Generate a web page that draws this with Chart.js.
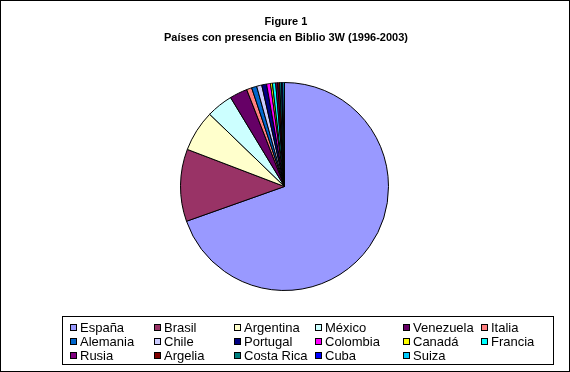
<!DOCTYPE html>
<html>
<head>
<meta charset="utf-8">
<script src="https://cdn.jsdelivr.net/npm/chart.js@4"></script>
<style>
  body { margin: 0; background: #fff; }
  canvas { display: block; }
</style>
</head>
<body>
<canvas id="grafico" width="570" height="372"></canvas>
<script>
const ctx = document.getElementById('grafico');

// datos (porcentaje aproximado)
const paises = ['España', 'Brasil', 'Argentina', 'México', 'Venezuela', 'Italia',
  'Alemania', 'Chile', 'Portugal', 'Colombia', 'Canadá', 'Francia',
  'Rusia', 'Argelia', 'Costa Rica', 'Cuba', 'Suiza'];
const valores = [69.4, 11.2, 6.4, 4.1, 2.75, 0.8, 0.8, 0.8, 0.75, 0.6, 0.3, 0.5,
  0.3, 0.3, 0.3, 0.2, 0.25];
const colores = ['#9999FF', '#993366', '#FFFFCC', '#CCFFFF', '#660066', '#FF8080',
  '#0066CC', '#CCCCFF', '#000080', '#FF00FF', '#FFFF00', '#00FFFF',
  '#800080', '#800000', '#008080', '#0000FF', '#00CCFF'];
const titulo = ['Figure 1', 'Países con presencia en Biblio 3W (1996-2003)'];

// columnas y filas de la leyenda
const colX = [70, 154, 234, 315, 403, 481];
const filaY = [328, 342, 356];

const marcoYTitulo = {
  id: 'marcoYTitulo',
  beforeDraw(chart) {
    const c = chart.ctx;
    c.save();
    c.fillStyle = '#fff';
    c.fillRect(0, 0, chart.width, chart.height);
    c.strokeStyle = '#000';
    c.lineWidth = 1;
    c.strokeRect(0.5, 0.5, chart.width - 1, chart.height - 1);
    c.restore();
  },
  afterDraw(chart) {
    const c = chart.ctx;
    c.save();
    c.fillStyle = '#000';
    c.textAlign = 'center';
    c.textBaseline = 'middle';
    c.font = 'bold 11px "Liberation Sans", Arial, sans-serif';
    c.fillText(titulo[0], 286, 22);
    c.fillText(titulo[1], 286, 38);

    // leyenda
    c.strokeStyle = '#000';
    c.lineWidth = 1;
    c.strokeRect(62.5, 316.5, 491, 48);
    c.textAlign = 'left';
    c.font = '13px "Liberation Sans", Arial, sans-serif';
    paises.forEach((p, i) => {
      const x = colX[i % 6];
      const y = filaY[Math.floor(i / 6)];
      c.fillStyle = colores[i];
      c.fillRect(x, y - 4, 7, 7);
      c.strokeRect(x + 0.5, y - 3.5, 6, 6);
      c.fillStyle = '#000';
      c.fillText(p, x + 10, y);
    });
    c.restore();
  }
};

new Chart(ctx, {
  type: 'pie',
  data: {
    labels: paises,
    datasets: [{
      data: valores,
      backgroundColor: colores,
      borderColor: '#000',
      borderWidth: 1
    }]
  },
  options: {
    responsive: false,
    animation: false,
    layout: { padding: { top: 82, bottom: 81, left: 0, right: 1 } },
    plugins: {
      legend: { display: false },
      title: { display: false },
      tooltip: { enabled: false }
    }
  },
  plugins: [marcoYTitulo]
});
</script>
</body>
</html>
